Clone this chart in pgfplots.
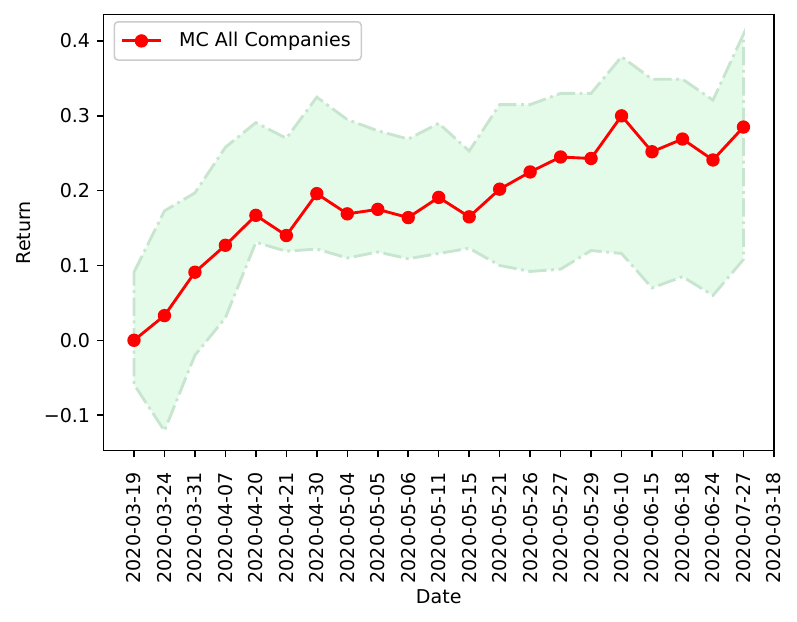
\documentclass[border=0pt]{standalone}
\usepackage{pgfplots}
\pgfplotsset{compat=1.18}
\usepackage{fontspec}
\setmainfont{DejaVu Sans}

\definecolor{bandfill}{RGB}{227,251,232}
\definecolor{bandedge}{RGB}{200,229,208}
\definecolor{legedge}{RGB}{204,204,204}

% mean return, all companies
\pgfplotstableread{
x ret
0 0.000
1 0.033
2 0.091
3 0.127
4 0.167
5 0.140
6 0.196
7 0.169
8 0.175
9 0.164
10 0.191
11 0.165
12 0.202
13 0.225
14 0.245
15 0.243
16 0.300
17 0.252
18 0.269
19 0.241
20 0.285
}\mcdata

% band: upper edge left to right, then lower edge right to left
\pgfplotstableread{
x y
0 0.091
1 0.173
2 0.197
3 0.258
4 0.291
5 0.270
6 0.325
7 0.295
8 0.280
9 0.269
10 0.290
11 0.253
12 0.315
13 0.315
14 0.330
15 0.330
16 0.379
17 0.349
18 0.349
19 0.321
20 0.409
20 0.108
19 0.060
18 0.085
17 0.070
16 0.116
15 0.120
14 0.095
13 0.092
12 0.100
11 0.123
10 0.116
9 0.109
8 0.118
7 0.110
6 0.122
5 0.119
4 0.131
3 0.030
2 -0.020
1 -0.121
0 -0.059
}\band

\begin{document}
\begin{tikzpicture}
\begin{axis}[
    width=352pt, height=229pt, scale only axis,
    xmin=-1, xmax=21,
    ymin=-0.1475, ymax=0.4355,
    xtick={0,...,21},
    xticklabels={2020-03-19,2020-03-24,2020-03-31,2020-04-07,2020-04-20,2020-04-21,2020-04-30,2020-05-04,2020-05-05,2020-05-06,2020-05-11,2020-05-15,2020-05-21,2020-05-26,2020-05-27,2020-05-29,2020-06-10,2020-06-15,2020-06-18,2020-06-24,2020-07-27,2020-03-18},
    x tick label style={yshift=-4.5pt, rotate=90, anchor=east},
    ytick={-0.1,0,0.1,0.2,0.3,0.4},
    yticklabels={−0.1,0.0,0.1,0.2,0.3,0.4},
    tick align=outside, tick pos=left,
    major tick length=3.5pt,
    every tick/.style={black, line width=0.8pt},
    axis line style={line width=0.8pt},
    xlabel={Date}, ylabel={Return},
    xlabel style={yshift=3.8pt},
    legend style={at={(0.015,0.985)}, anchor=north west, draw=legedge,
        rounded corners=2pt, line width=0.8pt, inner sep=3.5pt,
        row sep=2pt},
    legend cell align=left,
    legend image code/.code={
        \draw[mark repeat=2, mark phase=2] plot coordinates {(0pt,0pt) (10pt,0pt) (20pt,0pt)};
    },
]

\addplot[fill=bandfill, draw=bandedge, line width=1.5pt,
    dash pattern=on 9.6pt off 2.4pt on 1.5pt off 2.4pt, forget plot]
    table {\band} -- cycle;

\addplot[red, line width=1.5pt, mark=*, mark size=3pt,
    mark options={solid, fill=red, draw=red, line width=1pt}]
    table {\mcdata};
\addlegendentry{\hspace{7pt}MC All Companies}

\end{axis}
% padding like a tight bounding box
\path ([shift={(-5.4pt,-6pt)}]current bounding box.south west)
      ([shift={(5pt,7.2pt)}]current bounding box.north east);
\end{tikzpicture}
\end{document}
